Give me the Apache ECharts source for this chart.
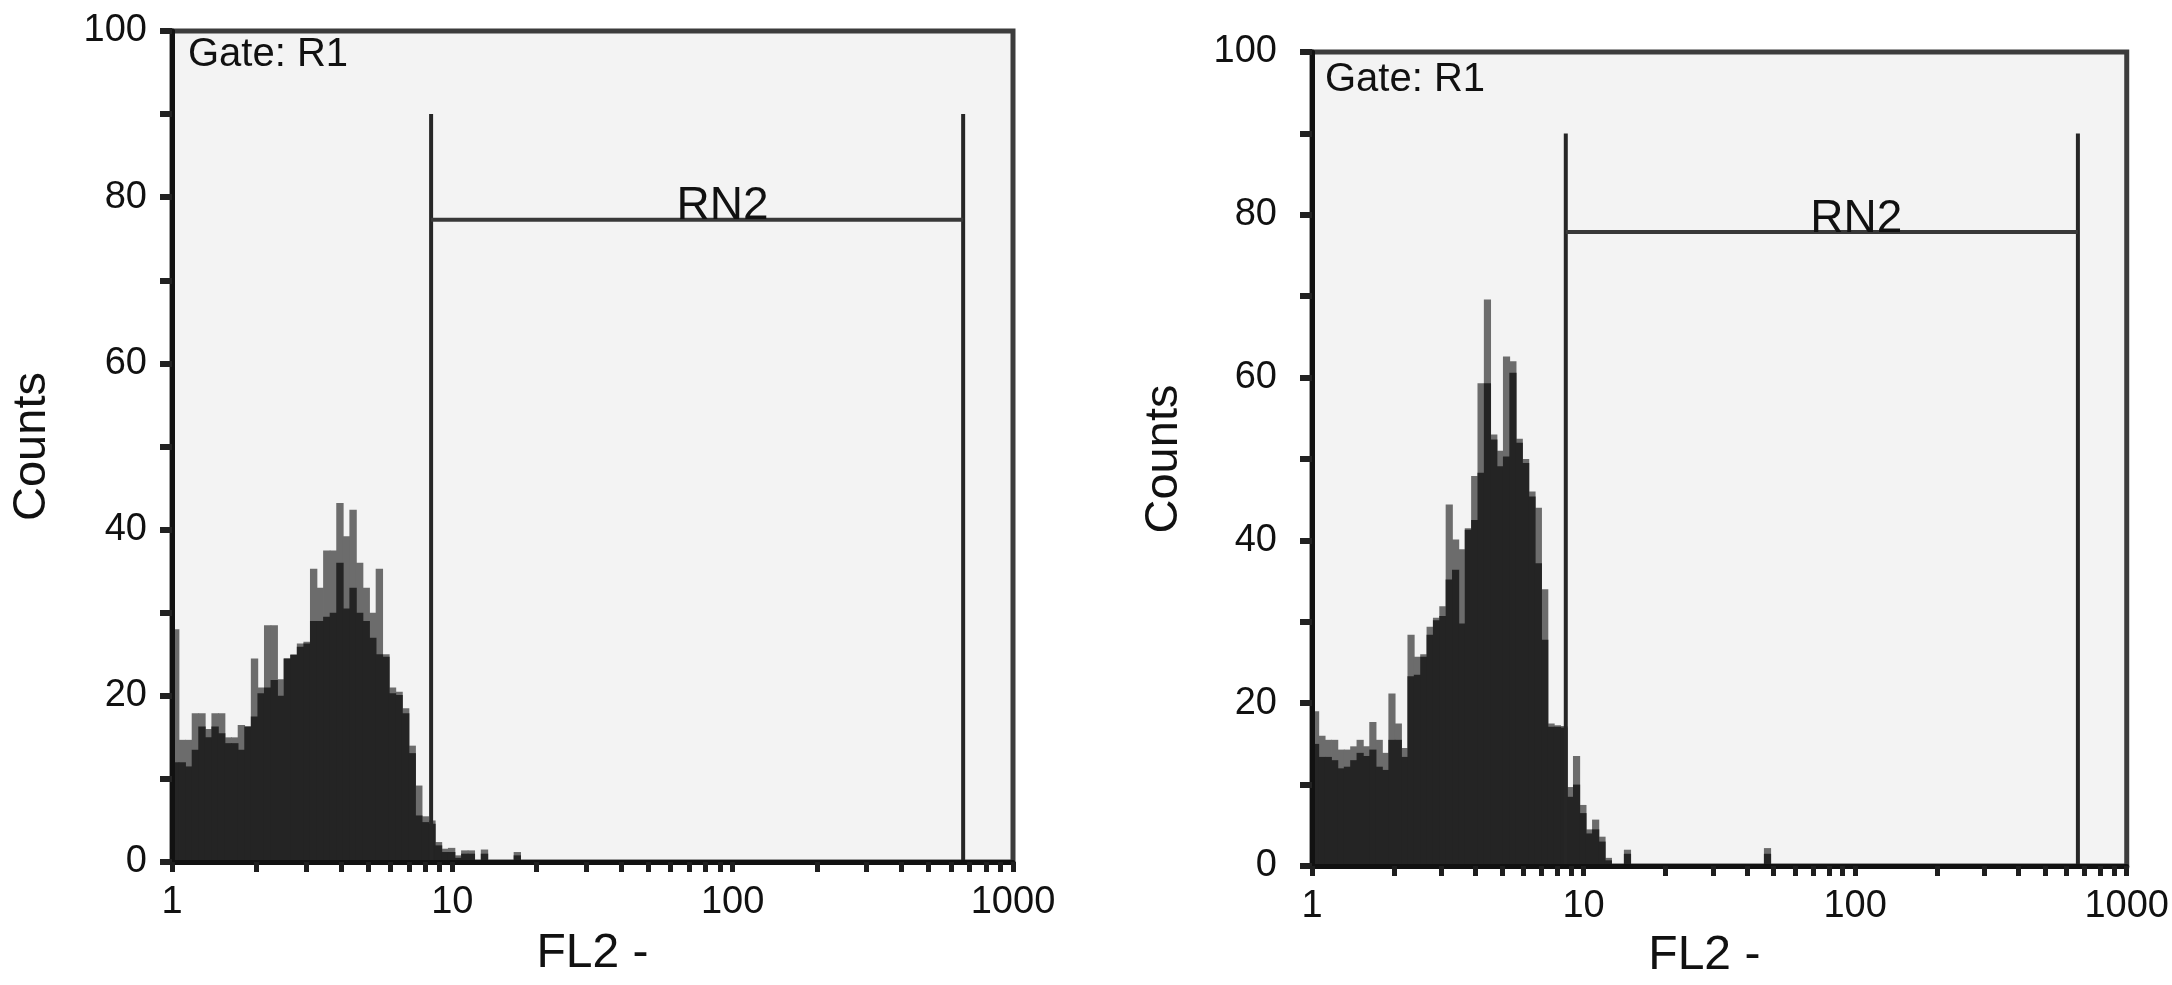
<!DOCTYPE html>
<html>
<head>
<meta charset="utf-8">
<script src="https://cdn.jsdelivr.net/npm/echarts@6/dist/echarts.min.js"></script>
<style>
html, body { margin: 0; padding: 0; background: #fff; }
#main { width: 2172px; height: 985px; }
</style>
</head>
<body>
<div id="main"></div>
<script>
// histogram channels: 128 channels over the 3 decades (1 - 1000)
var channels = 128;

// left panel, counts per channel (grey spikes and dark body)
var leftPeak = [28, 14.7, 14.7, 17.9, 17.9, 16, 17.9, 17.9, 15, 15, 16.5, 16.3, 24.5, 21, 28.5, 28.5, 22, 24.5, 25, 26.3,
	26.5, 35.3, 33, 37.5, 37.5, 43.2, 39.2, 42.4, 36, 33, 30, 35.3, 25, 21, 20.5, 18.5, 14, 9.2, 5.5, 5,
	2.4, 1.6, 1.7, 0.8, 1.4, 1.4, 0, 1.5, 0, 0, 0, 0, 1.2];
var leftBody = [12, 12, 11.5, 13.5, 16.3, 15, 16.3, 15.5, 14.3, 14.3, 13.5, 16.3, 17.5, 20.3, 21, 21.9, 20, 24.5, 24.9, 25.9,
	26.3, 29, 29, 29.5, 30, 36, 30.5, 33, 30, 29, 27, 25, 24.7, 20.3, 20.1, 17.9, 13.1, 5.6, 4.8, 4.6,
	2, 1.2, 1.2, 0.5, 1, 1, 0, 1, 0, 0, 0, 0, 0.8];

// right panel
var rightPeak = [19, 16, 15.5, 15.5, 14.3, 14.3, 14.7, 15.5, 14.7, 17.7, 15.5, 13.9, 21.2, 17.5, 14.5, 28.4, 25.7, 26, 29.4, 30.5,
	31.9, 44.4, 40.1, 38.9, 41.5, 47.9, 59.3, 69.6, 53, 51, 62.6, 62, 52.5, 50, 46, 44, 34, 17.5, 17.3, 17.2,
	9.7, 13.5, 7.5, 4.5, 5.7, 3.6, 1, 0, 0, 2, 0, 0, 0, 0, 0, 0, 0, 0, 0, 0,
	0, 0, 0, 0, 0, 0, 0, 0, 0, 0, 0, 2.2];
var rightBody = [15, 13.4, 13.4, 13, 12, 12.2, 13, 13.9, 13.5, 14.3, 12.2, 11.8, 15.5, 15.5, 13.4, 23.3, 23.5, 25.7, 28.4, 30.2,
	30.7, 35.2, 36.4, 29.8, 41.3, 42.5, 48.3, 59.3, 52.4, 49.1, 50.3, 60.6, 52, 49.5, 45.4, 37.2, 27.8, 17.1, 17.1, 17,
	8.5, 10, 6.5, 4, 4.5, 3, 0.7, 0, 0, 1.5, 0, 0, 0, 0, 0, 0, 0, 0, 0, 0,
	0, 0, 0, 0, 0, 0, 0, 0, 0, 0, 0, 1.5];

// RN2 gate: [low FL2, high FL2, line top, bar height, label position]
var gateLeft = [8.4, 664, 90, 77.3, 92];
var gateRight = [8.6, 661, 90, 77.9, 101];

var fl2Labels = [1, 10, 100, 1000];
var fl2Ticks = [1, 2, 3, 4, 5, 6, 7, 8, 9, 10, 20, 30, 40, 50, 60, 70, 80, 90,
	100, 200, 300, 400, 500, 600, 700, 800, 900, 1000];

var fontName = '"Liberation Sans", Arial, sans-serif';

function toPairs(arr) {
	return arr.map(function(v, i) {
		return [i, v];
	});
}

function histItem(color) {
	return function(params, api) {
		var i = api.value(0);
		var v = api.value(1);
		var p0 = api.coord([i, 0]);
		var p1 = api.coord([i + 1, v]);
		// a little overlap so no seams show between channels
		return {
			type : 'rect',
			shape : { x : p0[0], y : p1[1], width : p1[0] - p0[0] + 0.8, height : p0[1] - p1[1] },
			style : { fill : color }
		};
	};
}

function gateItem(params, api) {
	var lo = api.value(0), hi = api.value(1), top = api.value(2), bar = api.value(3), lab = api.value(4);
	var a0 = api.coord([lo, 0]), a1 = api.coord([lo, top]);
	var b0 = api.coord([hi, 0]), b1 = api.coord([hi, top]);
	var h0 = api.coord([lo, bar]), h1 = api.coord([hi, bar]);
	var t = api.coord([lab, bar]);
	var st = { stroke : '#262626', lineWidth : 4 };
	return {
		type : 'group',
		children : [
			{ type : 'line', shape : { x1 : a0[0], y1 : a0[1], x2 : a1[0], y2 : a1[1] }, style : st },
			{ type : 'line', shape : { x1 : b0[0], y1 : b0[1], x2 : b1[0], y2 : b1[1] }, style : st },
			{ type : 'line', shape : { x1 : h0[0], y1 : h0[1], x2 : h1[0], y2 : h1[1] }, style : { stroke : '#383838', lineWidth : 4 } },
			{ type : 'text', x : t[0], y : t[1] + 10,
				style : { text : 'RN2', fontSize : 46, fontFamily : fontName, fill : '#111', align : 'center', verticalAlign : 'bottom' } }
		]
	};
}

function logAxis(grid, gapName, pad) {
	return {
		type : 'log', logBase : 10, gridIndex : grid, min : 1, max : 1000, z : 3,
		name : 'FL2 -', nameLocation : 'middle', nameGap : gapName,
		nameTextStyle : { fontSize : 48, fontFamily : fontName, color : '#111', padding : pad },
		axisLine : { lineStyle : { color : '#111', width : 5 } },
		axisTick : { show : true, customValues : fl2Ticks, length : 10, inside : false, lineStyle : { color : '#1e1e1e', width : 5 } },
		axisLabel : { customValues : fl2Labels, fontSize : 38, fontFamily : fontName, color : '#111', margin : 22,
			formatter : function(v) { return String(Math.round(v)); } },
		minorTick : { show : false },
		splitLine : { show : false }
	};
}

function chanAxis(grid) {
	return { type : 'value', gridIndex : grid, min : 0, max : channels, show : false };
}

function countAxis(grid, gapName, labMargin) {
	return {
		type : 'value', gridIndex : grid, min : 0, max : 100, interval : 10, z : 3,
		name : 'Counts', nameLocation : 'middle', nameGap : gapName, nameRotate : 90,
		nameTextStyle : { fontSize : 47, fontFamily : fontName, color : '#111' },
		axisLine : { show : true, lineStyle : { color : '#111', width : 5 } },
		axisTick : { show : true, length : 12, lineStyle : { color : '#222', width : 6 } },
		axisLabel : { fontSize : 38, fontFamily : fontName, color : '#111', margin : labMargin,
			formatter : function(v) { return v % 20 === 0 ? String(v) : ''; } },
		splitLine : { show : false }
	};
}

var gridStyle = { show : true, backgroundColor : '#f3f3f3', borderColor : '#3c3c3c', borderWidth : 5 };

var myChart = echarts.init(document.getElementById('main'));

option = {
	backgroundColor : '#fff',
	animation : false,
	title : [ {
		text : 'Gate: R1', left : 188, top : 35, padding : 0,
		textStyle : { fontSize : 40, fontWeight : 'normal', fontFamily : fontName, color : '#111' }
	}, {
		text : 'Gate: R1', left : 1325, top : 60, padding : 0,
		textStyle : { fontSize : 40, fontWeight : 'normal', fontFamily : fontName, color : '#111' }
	} ],
	grid : [
		Object.assign({ left : 172, right : 1159, top : 31, bottom : 123 }, gridStyle),
		Object.assign({ left : 1312, right : 41, top : 52, bottom : 119 }, gridStyle)
	],
	xAxis : [ logAxis(0, 68, 0), chanAxis(0), logAxis(1, 66, [0, 30, 0, 0]), chanAxis(1) ],
	yAxis : [ countAxis(0, 116, 25), countAxis(1, 124, 35) ],
	series : [ {
		type : 'custom', name : 'left peak', xAxisIndex : 1, yAxisIndex : 0, z : 1, clip : true,
		renderItem : histItem('#6c6c6c'), data : toPairs(leftPeak)
	}, {
		type : 'custom', name : 'left body', xAxisIndex : 1, yAxisIndex : 0, z : 1, clip : true,
		renderItem : histItem('#242424'), data : toPairs(leftBody)
	}, {
		type : 'custom', name : 'left gate', xAxisIndex : 0, yAxisIndex : 0, z : 2,
		renderItem : gateItem, data : [ gateLeft ]
	}, {
		type : 'custom', name : 'right peak', xAxisIndex : 3, yAxisIndex : 1, z : 1, clip : true,
		renderItem : histItem('#6c6c6c'), data : toPairs(rightPeak)
	}, {
		type : 'custom', name : 'right body', xAxisIndex : 3, yAxisIndex : 1, z : 1, clip : true,
		renderItem : histItem('#242424'), data : toPairs(rightBody)
	}, {
		type : 'custom', name : 'right gate', xAxisIndex : 2, yAxisIndex : 1, z : 2,
		renderItem : gateItem, data : [ gateRight ]
	} ]
};

myChart.setOption(option);
</script>
</body>
</html>
